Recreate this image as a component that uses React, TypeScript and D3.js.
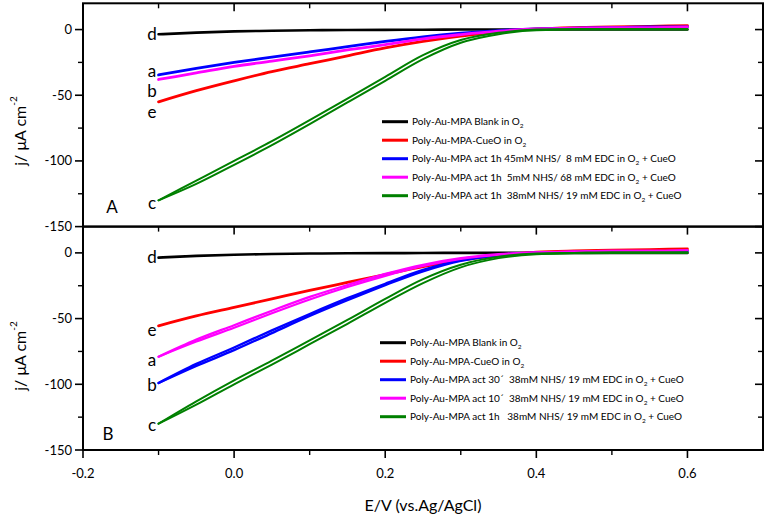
import React from 'react';
import * as d3 from 'd3';

// ---------- data ----------
const E = [-0.1, -0.05, 0, 0.05, 0.1, 0.15, 0.2, 0.25, 0.3, 0.35, 0.4, 0.45, 0.5, 0.55, 0.6];
const xTicks = [-0.2, 0.0, 0.2, 0.4, 0.6];
const xMinor = [-0.1, 0.1, 0.3, 0.5];
const yTicks = [0, -50, -100, -150];
const yMinor = [-25, -75, -125];

// Panel A
const aBlank = [-3.6, -2.3, -1.4, -0.9, -0.5, -0.3, -0.2, -0.1, 0, 0, 0, 0, 0, 0, 0];
const aCueO = [-55, -46.5, -39, -32, -26, -20, -14, -9, -5, -1.5, 0.5, 1.5, 2, 2.5, 3];
const a45NHS = [-34.5, -29.5, -25, -21, -17, -13, -9, -5.5, -2.8, -0.8, 0.5, 1, 1.5, 2, 2];
const a5NHS = [-38, -33, -28, -24, -20, -15.5, -11.5, -7, -3.8, -1.2, 0.5, 1, 1.5, 1.5, 2];
const a38NHS = [-130, -115, -100, -85, -69, -52.5, -36, -19.5, -8, -2.5, 0, 0.5, 0.5, 0.5, 0.5];
const a38NHSrev = [-130, -117.5, -103, -88, -72, -55.5, -39, -22.5, -10, -3.5, -0.5, 0, 0, 0, 0];

// Panel B
const bBlank = [-3.6, -2.3, -1.4, -0.9, -0.5, -0.3, -0.2, -0.1, 0, 0, 0, 0, 0, 0, 0];
const bCueO = [-55.5, -48, -41.5, -35, -28.5, -22.5, -16.5, -10.5, -5.5, -2, 0.5, 1.5, 2, 2.5, 3];
const b30min = [-99, -86, -74, -61, -48, -36, -24.5, -14, -6, -2, 0, 0.5, 1, 1, 1.5];
const b30minRev = [-99, -84.5, -72, -59, -46.5, -34.5, -23.5, -13, -5.5, -1.5, 0.2, 0.7, 1, 1, 1.5];
const b10min = [-79, -67.5, -57, -46, -35.5, -26, -17.5, -10, -4.5, -1.5, 0.3, 1, 1.5, 1.5, 2];
const b10minRev = [-79, -66, -55, -44, -33.5, -24.5, -16, -9, -4, -1, 0.5, 1, 1.5, 1.5, 2];
const b1h = [-130, -113, -97, -82, -66.5, -51, -35, -20, -9, -3, -0.5, 0, 0.5, 0.5, 0.5];
const b1hRev = [-130, -115.5, -100, -85, -69.5, -54, -38, -23, -11, -4, -1, -0.3, 0, 0, 0];

const legendA = [
  'Poly-Au-MPA Blank in O_2',
  'Poly-Au-MPA-CueO in O_2',
  'Poly-Au-MPA act 1h 45mM NHS/  8 mM EDC in O_2 + CueO',
  'Poly-Au-MPA act 1h  5mM NHS/ 68 mM EDC in O_2 + CueO',
  'Poly-Au-MPA act 1h  38mM NHS/ 19 mM EDC in O_2 + CueO',
];
const legendB = [
  'Poly-Au-MPA Blank in O_2',
  'Poly-Au-MPA-CueO in O_2',
  'Poly-Au-MPA act 30\u00b4  38mM NHS/ 19 mM EDC in O_2 + CueO',
  'Poly-Au-MPA act 10\u00b4  38mM NHS/ 19 mM EDC in O_2 + CueO',
  'Poly-Au-MPA act 1h   38mM NHS/ 19 mM EDC in O_2 + CueO',
];
const colors = ['#000000', '#ff0000', '#0000ff', '#ff00ff', '#008000'];
const colorsB = ['#000000', '#ff0000', '#0000ff', '#ff00ff', '#008000'];

const FONT = 'Lato, "Open Sans", sans-serif';

const W = 767;
const H = 519;
const L = 83;
const R = 763;

const x = d3.scaleLinear().domain([-0.2, 0.7]).range([L, R]);

type Series = { vals: number[]; color: string; width: number };
type Label = { t: string; y: number };

function Panel(props: {
  top: number;
  bottom: number;
  series: Series[];
  legend: string[];
  legendColors: string[];
  legendX: number;
  legendY: number;
  letters: Label[];
  panelLabel: string;
  panelLabelPos: [number, number];
  topTicks: boolean;
}) {
  const y = d3.scaleLinear().domain([-150, 20]).range([props.bottom, props.top]);
  const line = d3
    .line<number>()
    .x((_, i) => x(E[i]))
    .y((v) => y(v))
    .curve(d3.curveMonotoneX);
  return (
    <g>
      {props.series.map((s, i) => (
        <path key={i} d={line(s.vals) || ''} fill="none" stroke={s.color} strokeWidth={s.width} strokeLinecap="round" />
      ))}
      {/* y axis ticks left (out) */}
      {yTicks.map((t) => (
        <g key={'yt' + t}>
          <line x1={L - 8} x2={L} y1={y(t)} y2={y(t)} stroke="#000" strokeWidth={1.6} />
          <line x1={R} x2={R - 8} y1={y(t)} y2={y(t)} stroke="#000" strokeWidth={1.6} />
          <text x={72} y={y(t) + 4.5} textAnchor="end" fontSize={13} fontFamily={FONT}>
            {t}
          </text>
        </g>
      ))}
      {yMinor.map((t) => (
        <g key={'ym' + t}>
          <line x1={L - 5} x2={L} y1={y(t)} y2={y(t)} stroke="#000" strokeWidth={1.4} />
          <line x1={R} x2={R - 5} y1={y(t)} y2={y(t)} stroke="#000" strokeWidth={1.4} />
        </g>
      ))}
      {/* bottom ticks pointing down */}
      {xTicks.map((t) => (
        <line key={'xt' + t} x1={x(t)} x2={x(t)} y1={props.bottom} y2={props.bottom + 8} stroke="#000" strokeWidth={1.6} />
      ))}
      {xMinor.map((t) => (
        <line key={'xm' + t} x1={x(t)} x2={x(t)} y1={props.bottom} y2={props.bottom + 5} stroke="#000" strokeWidth={1.4} />
      ))}
      {props.topTicks &&
        xTicks.map((t) => (
          <line key={'tt' + t} x1={x(t)} x2={x(t)} y1={props.top} y2={props.top + 8} stroke="#000" strokeWidth={1.6} />
        ))}
      {props.topTicks &&
        xMinor.map((t) => (
          <line key={'tm' + t} x1={x(t)} x2={x(t)} y1={props.top} y2={props.top + 5} stroke="#000" strokeWidth={1.4} />
        ))}
      {/* frame */}
      <rect x={L} y={props.top} width={R - L} height={props.bottom - props.top} fill="none" stroke="#000" strokeWidth={2} />
      {/* legend */}
      {props.legend.map((lab, i) => {
        const yy = props.legendY + i * 18.5;
        const [pre, post] = lab.split('_2');
        return (
          <g key={'lg' + i}>
            <line x1={props.legendX} x2={props.legendX + 26} y1={yy} y2={yy} stroke={props.legendColors[i]} strokeWidth={3} />
            <text x={props.legendX + 30} y={yy + 3.5} fontSize={10} fontFamily={FONT} style={{ whiteSpace: 'pre' }}>
              {pre}
              <tspan fontSize={6.5} dy={3}>2</tspan>
              <tspan dy={-3}>{post}</tspan>
            </text>
          </g>
        );
      })}
      {props.letters.map((l, i) => (
        <text key={'lt' + i} x={152} y={l.y} textAnchor="middle" fontSize={17} fontFamily={FONT}>
          {l.t}
        </text>
      ))}
      <text x={props.panelLabelPos[0]} y={props.panelLabelPos[1]} textAnchor="middle" fontSize={17} fontFamily={FONT}>
        {props.panelLabel}
      </text>
    </g>
  );
}

function YLabel({ cy }: { cy: number }) {
  return (
    <text transform={`translate(26,${cy}) rotate(-90)`} textAnchor="middle" fontSize={16} fontFamily={FONT}>
      j/ μA cm
      <tspan fontSize={10} dy={-9}>-2</tspan>
    </text>
  );
}

export default function App() {
  const top1 = 3.3;
  const bot1 = 226.6;
  const bot2 = 450;
  return (
    <svg width={W} height={H} style={{ position: 'absolute', left: 0, top: 0, background: '#fff' }}>
      <rect x={0} y={0} width={W} height={H} fill="#fff" />
      <Panel
        top={top1}
        bottom={bot1}
        series={[
          { vals: aBlank, color: colors[0], width: 2.6 },
          { vals: aCueO, color: colors[1], width: 2.8 },
          { vals: a45NHS, color: colors[2], width: 2.8 },
          { vals: a5NHS, color: colors[3], width: 2.8 },
          { vals: a38NHS, color: colors[4], width: 2 },
          { vals: a38NHSrev, color: colors[4], width: 2 },
        ]}
        legend={legendA}
        legendColors={colors}
        legendX={382}
        legendY={121.7}
        letters={[
          { t: 'd', y: 40 },
          { t: 'a', y: 76.5 },
          { t: 'b', y: 96.5 },
          { t: 'e', y: 117.5 },
          { t: 'c', y: 208.5 },
        ]}
        panelLabel="A"
        panelLabelPos={[112, 213]}
        topTicks={true}
      />
      <Panel
        top={bot1}
        bottom={bot2}
        series={[
          { vals: bBlank, color: colorsB[0], width: 2.6 },
          { vals: bCueO, color: colorsB[1], width: 2.8 },
          { vals: b30min, color: colorsB[2], width: 2.4 },
          { vals: b30minRev, color: colorsB[2], width: 2.4 },
          { vals: b10min, color: colorsB[3], width: 2.2 },
          { vals: b10minRev, color: colorsB[3], width: 2.2 },
          { vals: b1h, color: colorsB[4], width: 2 },
          { vals: b1hRev, color: colorsB[4], width: 2 },
        ]}
        legend={legendB}
        legendColors={colorsB}
        legendX={380}
        legendY={342.7}
        letters={[
          { t: 'd', y: 262.5 },
          { t: 'e', y: 336 },
          { t: 'a', y: 366 },
          { t: 'b', y: 390.5 },
          { t: 'c', y: 430.5 },
        ]}
        panelLabel="B"
        panelLabelPos={[108, 440]}
        topTicks={false}
      />
      {xTicks.map((t) => (
        <text key={'xl' + t} x={x(t)} y={478} textAnchor="middle" fontSize={13} fontFamily={FONT}>
          {t.toFixed(1)}
        </text>
      ))}
      <text x={(L + R) / 2} y={511} textAnchor="middle" fontSize={16} fontFamily={FONT}>
        E/V (vs.Ag/AgCl)
      </text>
      <YLabel cy={131} />
      <YLabel cy={356} />
    </svg>
  );
}
